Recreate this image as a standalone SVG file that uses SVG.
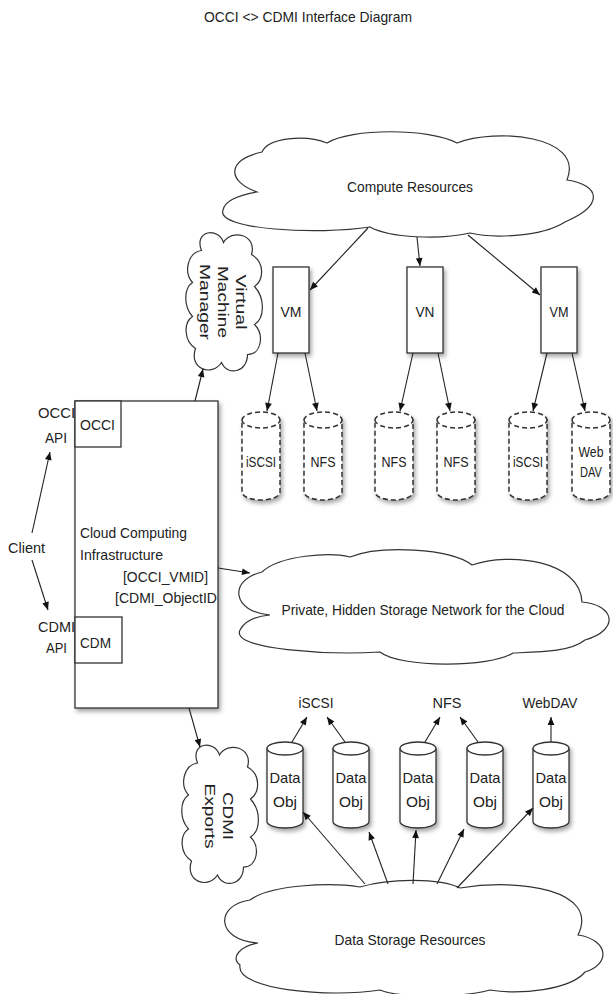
<svg xmlns="http://www.w3.org/2000/svg" xmlns:xlink="http://www.w3.org/1999/xlink" width="613" height="994" viewBox="0 0 613 994">
<style>
text{font-family:"Liberation Sans",Arial,sans-serif;font-size:15px;fill:#222}
.sh{stroke:#333;stroke-width:1.3;fill:#fff}
.cl{stroke:#333;stroke-width:1.2;fill:#fff}
.dc{stroke:#333;stroke-width:1.5;fill:#fff;stroke-dasharray:5,3}
.ln{stroke:#222;stroke-width:1.1;fill:none;marker-end:url(#arr)}
.m{text-anchor:middle}
.e{text-anchor:end}
</style>
<defs>
<filter id="ds" x="-30%" y="-30%" width="160%" height="160%">
<feDropShadow dx="2" dy="3" stdDeviation="2" flood-color="#000" flood-opacity="0.35"/>
</filter>
<marker id="arr" viewBox="0 0 10 10" refX="10" refY="5" markerWidth="9" markerHeight="8" markerUnits="userSpaceOnUse" orient="auto">
<path d="M0,0.8 L10,5 L0,9.2 z" fill="#111"/>
</marker>
<path id="vcloud" d="M -22,-52 C -30,-72 -5,-76 0,-60 C 8,-74 34,-68 28,-48 C 42,-40 40,-22 31,-16 C 42,-4 41,16 31,22 C 41,32 38,52 24,52 C 24,70 4,74 -2,60 C -12,75 -35,66 -28,46 C -40,38 -40,20 -31,14 C -40,4 -40,-14 -31,-20 C -40,-30 -36,-50 -22,-52 Z"/>
<g id="dcyl">
<path d="M0,8 A19,8 0 0 1 38,8 L38,80 A19,8 0 0 1 0,80 Z"/>
<path d="M0,8 A19,8 0 0 0 38,8" fill="none"/>
</g>
<g id="scyl">
<path d="M0,6.5 A18,6.5 0 0 1 36,6.5 L36,79.5 A18,6.5 0 0 1 0,79.5 Z"/>
<path d="M0,6.5 A18,6.5 0 0 0 36,6.5" fill="none"/>
</g>
</defs>
<rect width="613" height="994" fill="#fff"/>

<text id="title" class="m" x="308" y="22" font-size="14" textLength="208" lengthAdjust="spacingAndGlyphs">OCCI &lt;&gt; CDMI Interface Diagram</text>

<g id="compute-resources">
<path class="cl" d="M 257,192 C 228,182 225,160 262,152 C 268,138 305,134 327,143 C 350,128 430,128 457,143 C 495,128 585,135 567,180 C 600,185 605,205 565,222 C 540,238 490,238 470,233 C 440,240 390,238 370,227 C 320,235 215,230 223,210 C 225,200 240,195 257,192 Z"/>
<text class="m" x="410" y="192" textLength="126" lengthAdjust="spacingAndGlyphs">Compute Resources</text>
</g>

<g id="vmm">
<use href="#vcloud" class="cl" transform="translate(223.5,302.5)"/>
<g transform="translate(0,302) rotate(90)">
<text class="m" x="0" y="-241" dominant-baseline="central" font-size="13" textLength="55" lengthAdjust="spacingAndGlyphs">Virtual</text>
<text class="m" x="0" y="-223" dominant-baseline="central" font-size="13" textLength="72" lengthAdjust="spacingAndGlyphs">Machine</text>
<text class="m" x="0" y="-205" dominant-baseline="central" font-size="13" textLength="76" lengthAdjust="spacingAndGlyphs">Manager</text>
</g>
</g>

<g id="vm1"><rect class="sh" filter="url(#ds)" x="273" y="267" width="36" height="86"/><text class="m" x="291" y="317" textLength="21" lengthAdjust="spacingAndGlyphs">VM</text></g>
<g id="vm2"><rect class="sh" filter="url(#ds)" x="407" y="267" width="36" height="86"/><text class="m" x="425" y="317" textLength="19" lengthAdjust="spacingAndGlyphs">VN</text></g>
<g id="vm3"><rect class="sh" filter="url(#ds)" x="541" y="267" width="36" height="86"/><text class="m" x="559" y="317" textLength="19" lengthAdjust="spacingAndGlyphs">VM</text></g>

<g id="dcyl1"><use href="#dcyl" class="dc" filter="url(#ds)" transform="translate(242,412)"/><text class="m" x="261" y="467" textLength="30" lengthAdjust="spacingAndGlyphs">iSCSI</text></g>
<g id="dcyl2"><use href="#dcyl" class="dc" filter="url(#ds)" transform="translate(304,412)"/><text class="m" x="323" y="467" textLength="25" lengthAdjust="spacingAndGlyphs">NFS</text></g>
<g id="dcyl3"><use href="#dcyl" class="dc" filter="url(#ds)" transform="translate(375,412)"/><text class="m" x="394" y="467" textLength="25" lengthAdjust="spacingAndGlyphs">NFS</text></g>
<g id="dcyl4"><use href="#dcyl" class="dc" filter="url(#ds)" transform="translate(437,412)"/><text class="m" x="456" y="467" textLength="25" lengthAdjust="spacingAndGlyphs">NFS</text></g>
<g id="dcyl5"><use href="#dcyl" class="dc" filter="url(#ds)" transform="translate(509,412)"/><text class="m" x="528" y="467" textLength="30" lengthAdjust="spacingAndGlyphs">iSCSI</text></g>
<g id="dcyl6"><use href="#dcyl" class="dc" filter="url(#ds)" transform="translate(572,412)"/><text class="m" x="591" y="457" textLength="25" lengthAdjust="spacingAndGlyphs">Web</text><text class="m" x="591" y="477" textLength="22" lengthAdjust="spacingAndGlyphs">DAV</text></g>

<g id="infrastructure">
<rect class="sh" filter="url(#ds)" x="75" y="401" width="143" height="307"/>
<text x="80" y="538" textLength="107" lengthAdjust="spacingAndGlyphs">Cloud Computing</text>
<text x="80" y="560" textLength="83" lengthAdjust="spacingAndGlyphs">Infrastructure</text>
<text x="123" y="582" textLength="85" lengthAdjust="spacingAndGlyphs">[OCCI_VMID]</text>
<text x="115" y="603" textLength="102" lengthAdjust="spacingAndGlyphs">[CDMI_ObjectID</text>
</g>
<g id="occi"><rect class="sh" x="75" y="401" width="46" height="46"/><text x="80" y="430" textLength="35" lengthAdjust="spacingAndGlyphs">OCCI</text></g>
<g id="cdm"><rect class="sh" x="75" y="617" width="47" height="46"/><text x="80" y="648" textLength="31" lengthAdjust="spacingAndGlyphs">CDM</text></g>

<g id="occi-api"><text x="38" y="418" textLength="37" lengthAdjust="spacingAndGlyphs">OCCI</text><text x="45" y="443" textLength="22" lengthAdjust="spacingAndGlyphs">API</text></g>
<g id="cdmi-api"><text x="38" y="632" textLength="37" lengthAdjust="spacingAndGlyphs">CDMI</text><text x="46" y="653" textLength="21" lengthAdjust="spacingAndGlyphs">API</text></g>
<g id="client"><text x="8" y="553" textLength="37" lengthAdjust="spacingAndGlyphs">Client</text></g>

<g id="private-network">
<path class="cl" d="M 270,615 C 232,612 228,580 262,572 C 280,555 330,552 350,557 C 380,545 450,548 472,565 C 510,552 580,560 582,602 C 615,605 620,630 585,640 C 570,652 540,652 513,653 C 490,668 400,668 380,652 C 330,655 230,650 240,630 C 245,620 258,616 270,615 Z"/>
<text class="m" x="423" y="615" textLength="283" lengthAdjust="spacingAndGlyphs">Private, Hidden Storage Network for the Cloud</text>
</g>

<g id="cdmi-exports">
<use href="#vcloud" class="cl" transform="translate(219.5,815)"/>
<g transform="translate(0,816) rotate(90)">
<text class="m" x="0" y="-228" dominant-baseline="central" font-size="13" textLength="48" lengthAdjust="spacingAndGlyphs">CDMI</text>
<text class="m" x="0" y="-210" dominant-baseline="central" font-size="13" textLength="65" lengthAdjust="spacingAndGlyphs">Exports</text>
</g>
</g>

<g id="lbl-iscsi"><text class="m" x="316" y="708" textLength="35" lengthAdjust="spacingAndGlyphs">iSCSI</text></g>
<g id="lbl-nfs"><text class="m" x="447" y="708" textLength="29" lengthAdjust="spacingAndGlyphs">NFS</text></g>
<g id="lbl-webdav"><text class="m" x="550" y="708" textLength="55" lengthAdjust="spacingAndGlyphs">WebDAV</text></g>

<g id="obj1"><use href="#scyl" class="sh" filter="url(#ds)" transform="translate(267,742)"/><text class="m" x="285" y="783" textLength="31" lengthAdjust="spacingAndGlyphs">Data</text><text class="m" x="285" y="807" textLength="24" lengthAdjust="spacingAndGlyphs">Obj</text></g>
<g id="obj2"><use href="#scyl" class="sh" filter="url(#ds)" transform="translate(333,742)"/><text class="m" x="351" y="783" textLength="31" lengthAdjust="spacingAndGlyphs">Data</text><text class="m" x="351" y="807" textLength="24" lengthAdjust="spacingAndGlyphs">Obj</text></g>
<g id="obj3"><use href="#scyl" class="sh" filter="url(#ds)" transform="translate(400,742)"/><text class="m" x="418" y="783" textLength="31" lengthAdjust="spacingAndGlyphs">Data</text><text class="m" x="418" y="807" textLength="24" lengthAdjust="spacingAndGlyphs">Obj</text></g>
<g id="obj4"><use href="#scyl" class="sh" filter="url(#ds)" transform="translate(467,742)"/><text class="m" x="485" y="783" textLength="31" lengthAdjust="spacingAndGlyphs">Data</text><text class="m" x="485" y="807" textLength="24" lengthAdjust="spacingAndGlyphs">Obj</text></g>
<g id="obj5"><use href="#scyl" class="sh" filter="url(#ds)" transform="translate(533,742)"/><text class="m" x="551" y="783" textLength="31" lengthAdjust="spacingAndGlyphs">Data</text><text class="m" x="551" y="807" textLength="24" lengthAdjust="spacingAndGlyphs">Obj</text></g>

<g id="data-storage">
<path class="cl" d="M 258,943 C 215,940 215,905 250,900 C 270,885 330,882 360,887 C 390,878 440,878 460,888 C 520,878 600,890 578,935 C 610,940 610,965 585,972 C 570,990 520,995 490,990 C 460,998 400,998 380,990 C 330,998 235,990 240,965 C 230,958 240,946 258,943 Z"/>
<text class="m" x="410" y="945" textLength="151" lengthAdjust="spacingAndGlyphs">Data Storage Resources</text>
</g>

<g id="connectors">
<line class="ln" x1="368" y1="228" x2="310" y2="290"/>
<line class="ln" x1="417" y1="237" x2="420" y2="266"/>
<line class="ln" x1="468" y1="235" x2="540" y2="295"/>
<line class="ln" x1="278" y1="353" x2="267" y2="411"/>
<line class="ln" x1="305" y1="353" x2="317" y2="411"/>
<line class="ln" x1="413" y1="353" x2="400" y2="411"/>
<line class="ln" x1="438" y1="353" x2="450" y2="411"/>
<line class="ln" x1="547" y1="353" x2="533" y2="411"/>
<line class="ln" x1="572" y1="353" x2="585" y2="411"/>
<line class="ln" x1="195" y1="401" x2="203" y2="369"/>
<line class="ln" x1="32" y1="533" x2="50" y2="452"/>
<line class="ln" x1="32" y1="560" x2="48" y2="610"/>
<line class="ln" x1="218" y1="568" x2="250" y2="573"/>
<line class="ln" x1="189" y1="708" x2="200" y2="747"/>
<line class="ln" x1="292" y1="742" x2="307" y2="717"/>
<line class="ln" x1="345" y1="742" x2="327" y2="717"/>
<line class="ln" x1="425" y1="742" x2="440" y2="717"/>
<line class="ln" x1="478" y1="742" x2="460" y2="717"/>
<line class="ln" x1="551" y1="742" x2="551" y2="717"/>
<line class="ln" x1="365" y1="884" x2="303" y2="812"/>
<line class="ln" x1="388" y1="884" x2="369" y2="832"/>
<line class="ln" x1="413" y1="884" x2="416" y2="830"/>
<line class="ln" x1="437" y1="884" x2="464" y2="829"/>
<line class="ln" x1="457" y1="888" x2="533" y2="808"/>
</g>
</svg>
